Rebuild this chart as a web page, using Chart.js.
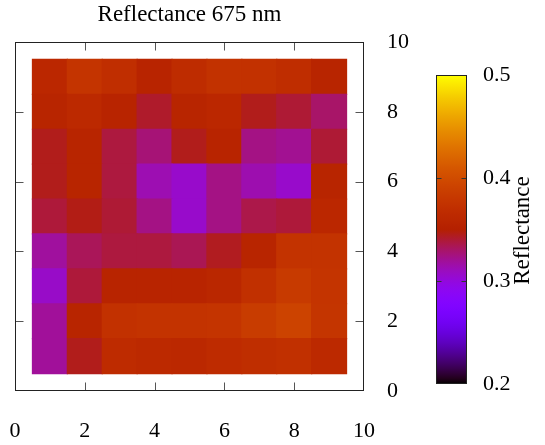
<!DOCTYPE html>
<html><head><meta charset="utf-8">
<script src="https://cdn.jsdelivr.net/npm/chart.js@4/dist/chart.umd.min.js"></script>
<style>
html,body{margin:0;padding:0;background:#fff;}
#wrap{position:relative;width:545px;height:445px;overflow:hidden;}
.box{position:absolute;top:0;}
</style></head><body>
<div id="wrap">
  <div class="box" style="left:0;width:420px;height:445px"><canvas id="main" width="420" height="445"></canvas></div>
  <div class="box" style="left:420px;width:125px;height:445px"><canvas id="cbar" width="125" height="445"></canvas></div>
</div>
<script>
const TITLE = 'Reflectance 675 nm';
const CB_LABEL = 'Reflectance';
const xCells = [1, 2, 3, 4, 5, 6, 7, 8, 9];
const yCells = [1, 2, 3, 4, 5, 6, 7, 8, 9];
// one array per row (y = 1 ... 9), entries follow xCells
const row1 = [0.319, 0.345, 0.366, 0.363, 0.362, 0.366, 0.369, 0.372, 0.363];
const row2 = [0.319, 0.357, 0.373, 0.376, 0.376, 0.377, 0.385, 0.392, 0.378];
const row3 = [0.307, 0.339, 0.356, 0.356, 0.356, 0.360, 0.372, 0.383, 0.377];
const row4 = [0.318, 0.333, 0.338, 0.338, 0.334, 0.344, 0.357, 0.376, 0.375];
const row5 = [0.339, 0.346, 0.340, 0.324, 0.306, 0.324, 0.336, 0.339, 0.361];
const row6 = [0.345, 0.357, 0.338, 0.313, 0.306, 0.324, 0.314, 0.306, 0.357];
const row7 = [0.345, 0.357, 0.338, 0.327, 0.345, 0.356, 0.324, 0.321, 0.340];
const row8 = [0.357, 0.363, 0.356, 0.342, 0.357, 0.361, 0.345, 0.340, 0.330];
const row9 = [0.361, 0.377, 0.370, 0.356, 0.367, 0.374, 0.373, 0.368, 0.357];
const reflectance = [row1, row2, row3, row4, row5, row6, row7, row8, row9];
const axisTicks = [0, 2, 4, 6, 8, 10];
const cbTicks = [0.2, 0.3, 0.4, 0.5];
const cbMin = 0.2, cbMax = 0.5;

const FAMILY = "'Liberation Serif', 'Times New Roman', serif";
const TICK_FONT = {family: FAMILY, size: 22, weight: 'normal'};
const TITLE_FONT = {family: FAMILY, size: 23, weight: 'normal'};
const TXT = '#000';

// gnuplot default palette (rgbformulae 7,5,15)
function palette(v) {
  let t = (v - cbMin) / (cbMax - cbMin);
  t = Math.max(0, Math.min(1, t));
  const r = Math.sqrt(t), g = t * t * t, b = Math.max(0, Math.sin(2 * Math.PI * t));
  return 'rgb(' + Math.round(r * 255) + ',' + Math.round(g * 255) + ',' + Math.round(b * 255) + ')';
}

const datasets = yCells.map((yv, ri) => ({
  data: xCells.map(xv => ({x: xv, y: [yv - 0.5, yv + 0.5]})),
  backgroundColor: reflectance[ri].map(palette),
  borderWidth: 0,
  inflateAmount: 0.6,
  grouped: false,
  barPercentage: 1,
  categoryPercentage: 1
}));

const frame = {
  id: 'frame',
  afterDraw(chart) {
    const {ctx, chartArea: a, scales: {x, y}} = chart;
    ctx.save();
    const L = Math.round(a.left) + 0.5, R = Math.round(a.right) - 0.5;
    const T = Math.round(a.top) + 0.5, B = Math.round(a.bottom) - 0.5;
    ctx.strokeStyle = '#555';
    ctx.lineWidth = 1;
    const tl = 8;
    ctx.beginPath();
    axisTicks.slice(1, -1).forEach(v => {
      const px = Math.round(x.getPixelForValue(v)) + 0.5;
      ctx.moveTo(px, B); ctx.lineTo(px, B - tl);
      ctx.moveTo(px, T); ctx.lineTo(px, T + tl);
      const py = Math.round(y.getPixelForValue(v)) + 0.5;
      ctx.moveTo(L, py); ctx.lineTo(L + tl, py);
      ctx.moveTo(R, py); ctx.lineTo(R - tl, py);
    });
    ctx.stroke();
    ctx.strokeStyle = '#222';
    ctx.strokeRect(L, T, R - L, B - T);
    ctx.restore();
  }
};

new Chart(document.getElementById('main'), {
  type: 'bar',
  data: {datasets},
  options: {
    responsive: false,
    animation: false,
    layout: {padding: {left: 15, right: 6, top: 0, bottom: 0}},
    plugins: {
      legend: {display: false},
      tooltip: {enabled: false},
      title: {display: true, text: TITLE, fullSize: false, font: TITLE_FONT, color: TXT, padding: {top: 1, bottom: 13.4}}
    },
    scales: {
      x: {
        type: 'linear', min: 0, max: 10, offset: false,
        grid: {display: false, drawTicks: false, tickLength: 0}, border: {display: false},
        ticks: {padding: 27, font: TICK_FONT, color: TXT, maxRotation: 0, autoSkip: false},
        afterBuildTicks: s => { s.ticks = axisTicks.map(v => ({value: v})); },
        afterFit: s => { s.height = 54; s.paddingLeft = 0; s.paddingRight = 0; }
      },
      y: {
        type: 'linear', position: 'right', min: 0, max: 10,
        grid: {display: false, drawTicks: false, tickLength: 0}, border: {display: false},
        ticks: {padding: 23, font: TICK_FONT, color: TXT, autoSkip: false},
        afterBuildTicks: s => { s.ticks = axisTicks.map(v => ({value: v})); },
        afterFit: s => { s.width = 50; s.paddingTop = 0; s.paddingBottom = 0; }
      }
    }
  },
  plugins: [frame]
});

const cbFrame = {
  id: 'cbFrame',
  afterDraw(chart) {
    const {ctx, chartArea: a, scales: {y}} = chart;
    ctx.save();
    const L = Math.round(a.left) + 0.5, R = Math.round(a.right) - 0.5;
    const T = Math.round(a.top) + 0.5, B = Math.round(a.bottom) - 0.5;
    ctx.strokeStyle = '#333';
    ctx.lineWidth = 1;
    ctx.beginPath();
    cbTicks.slice(1, -1).forEach(v => {
      const py = Math.round(y.getPixelForValue(v)) + 0.5;
      ctx.moveTo(L, py); ctx.lineTo(L + 5, py);
      ctx.moveTo(R, py); ctx.lineTo(R - 5, py);
    });
    ctx.stroke();
    ctx.strokeStyle = '#222';
    ctx.strokeRect(L, T, R - L, B - T);
    ctx.translate(a.right + 56, (a.top + a.bottom) / 2 + 1);
    ctx.rotate(-Math.PI / 2);
    ctx.font = TITLE_FONT.size + 'px ' + FAMILY;
    ctx.fillStyle = TXT;
    ctx.textAlign = 'center';
    ctx.textBaseline = 'middle';
    ctx.fillText(CB_LABEL, 0, 0);
    ctx.restore();
  }
};

new Chart(document.getElementById('cbar'), {
  type: 'bar',
  data: {
    labels: [''],
    datasets: [{
      data: [[cbMin, cbMax]],
      backgroundColor: c => {
        const ch = c.chart, ys = ch.scales.y;
        if (!ch.chartArea || !ys) return 'rgba(0,0,0,0)';
        const y0 = ys.getPixelForValue(cbMin), y1 = ys.getPixelForValue(cbMax);
        const g = ch.ctx.createLinearGradient(0, y0, 0, y1);
        for (let i = 0; i <= 60; i++) {
          const t = i / 60;
          g.addColorStop(t, palette(cbMin + t * (cbMax - cbMin)));
        }
        return g;
      },
      borderWidth: 0,
      inflateAmount: 0,
      barPercentage: 1,
      categoryPercentage: 1
    }]
  },
  options: {
    responsive: false,
    animation: false,
    layout: {padding: {left: 16, top: 75, bottom: 61, right: 0}},
    plugins: {legend: {display: false}, tooltip: {enabled: false}},
    scales: {
      x: {display: false},
      y: {
        position: 'right', min: cbMin, max: cbMax,
        grid: {display: false, drawTicks: false, tickLength: 0}, border: {display: false},
        ticks: {padding: 16, font: TICK_FONT, color: TXT, callback: v => v.toFixed(1)},
        afterBuildTicks: s => { s.ticks = cbTicks.map(v => ({value: v})); },
        afterFit: s => { s.width = 78; s.paddingTop = 0; s.paddingBottom = 0; }
      }
    }
  },
  plugins: [cbFrame]
});
</script>
</body></html>
